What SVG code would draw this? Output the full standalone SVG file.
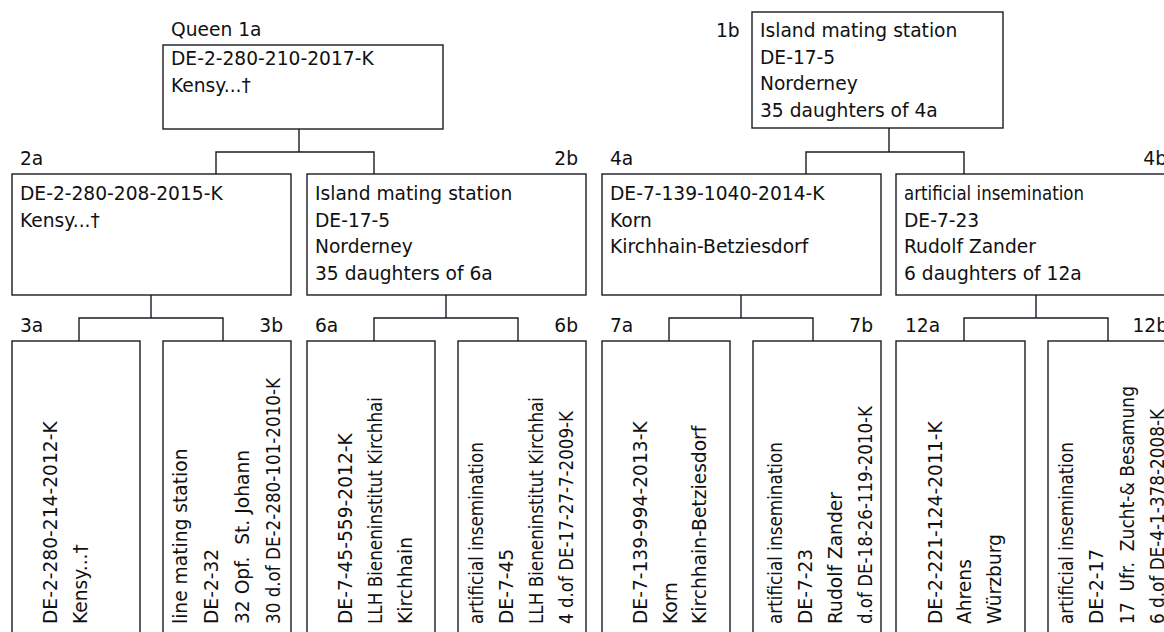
<svg xmlns="http://www.w3.org/2000/svg" width="1164" height="632" viewBox="0 0 1164 632">
<style>
text{font-family:"DejaVu Sans","Noto Sans",sans-serif;font-size:18.67px;fill:#111}
.box{fill:#fff;stroke:#1a1a24;stroke-width:1.4}
.con path{fill:none;stroke:#1a1a24;stroke-width:1.4}
.end{text-anchor:end}
</style>
<rect width="1164" height="632" fill="#fff"/>
<g class="con" id="connectors">
<path d="M299 129V152M216 174V152H374V174"/>
<path d="M889 128V152M806 174V152H964V174"/>
<path d="M151 295V318M79 341V318H223V341"/>
<path d="M446 295V318M374 341V318H518V341"/>
<path d="M741 295V318M669 341V318H813V341"/>
<path d="M1036 295V318M964 341V318H1108V341"/>
</g>
<g id="n1a">
<text x="171" y="36">Queen 1a</text>
<rect class="box" x="163" y="45" width="280" height="84"/>
<text x="171" y="65">DE-2-280-210-2017-K</text>
<text x="171" y="92">Kensy...†</text>
</g>
<g id="n1b">
<text x="716" y="37">1b</text>
<rect class="box" x="752" y="12" width="251" height="116"/>
<text x="760" y="37">Island mating station</text>
<text x="760" y="63.7">DE-17-5</text>
<text x="760" y="90.3">Norderney</text>
<text x="760" y="117">35 daughters of 4a</text>
</g>
<g id="n2a">
<text x="20" y="165">2a</text>
<rect class="box" x="12" y="174" width="279" height="121"/>
<text x="20" y="200">DE-2-280-208-2015-K</text>
<text x="20" y="226.6">Kensy...†</text>
</g>
<g id="n2b">
<text class="end" x="578" y="165">2b</text>
<rect class="box" x="307" y="174" width="279" height="121"/>
<text x="315" y="200">Island mating station</text>
<text x="315" y="226.6">DE-17-5</text>
<text x="315" y="253.2">Norderney</text>
<text x="315" y="279.8">35 daughters of 6a</text>
</g>
<g id="n4a">
<text x="610" y="165">4a</text>
<rect class="box" x="602" y="174" width="279" height="121"/>
<text x="610" y="200">DE-7-139-1040-2014-K</text>
<text x="610" y="226.6">Korn</text>
<text x="610" y="253.2">Kirchhain-Betziesdorf</text>
</g>
<g id="n4b">
<text class="end" x="1167" y="165">4b</text>
<rect class="box" x="896" y="174" width="279" height="121"/>
<text x="904" y="200" textLength="180" lengthAdjust="spacingAndGlyphs">artificial insemination</text>
<text x="904" y="226.6">DE-7-23</text>
<text x="904" y="253.2">Rudolf Zander</text>
<text x="904" y="279.8">6 daughters of 12a</text>
</g>
<g id="n3a">
<text x="20" y="332">3a</text>
<rect class="box" x="12" y="341" width="128" height="300"/>
<text transform="rotate(-90 57 624)" x="57" y="624">DE-2-280-214-2012-K</text>
<text transform="rotate(-90 87 624)" x="87" y="624">Kensy...†</text>
</g>
<g id="n3b">
<text class="end" x="283" y="332">3b</text>
<rect class="box" x="163" y="341" width="128" height="300"/>
<text transform="rotate(-90 187 624)" x="187" y="624">line mating station</text>
<text transform="rotate(-90 218 624)" x="218" y="624">DE-2-32</text>
<text transform="rotate(-90 249 624)" x="249" y="624" xml:space="preserve">32 Opf.  St. Johann</text>
<text transform="rotate(-90 280 624)" x="280" y="624" textLength="246" lengthAdjust="spacingAndGlyphs">30 d.of DE-2-280-101-2010-K</text>
</g>
<g id="n6a">
<text x="315" y="332">6a</text>
<rect class="box" x="307" y="341" width="128" height="300"/>
<text transform="rotate(-90 352 624)" x="352" y="624">DE-7-45-559-2012-K</text>
<text transform="rotate(-90 382 624)" x="382" y="624" textLength="227" lengthAdjust="spacingAndGlyphs">LLH Bieneninstitut Kirchhai</text>
<text transform="rotate(-90 412 624)" x="412" y="624">Kirchhain</text>
</g>
<g id="n6b">
<text class="end" x="578" y="332">6b</text>
<rect class="box" x="458" y="341" width="128" height="300"/>
<text transform="rotate(-90 483 624)" x="483" y="624" textLength="182" lengthAdjust="spacingAndGlyphs">artificial insemination</text>
<text transform="rotate(-90 513 624)" x="513" y="624">DE-7-45</text>
<text transform="rotate(-90 543 624)" x="543" y="624" textLength="227" lengthAdjust="spacingAndGlyphs">LLH Bieneninstitut Kirchhai</text>
<text transform="rotate(-90 573 624)" x="573" y="624" textLength="213" lengthAdjust="spacingAndGlyphs">4 d.of DE-17-27-7-2009-K</text>
</g>
<g id="n7a">
<text x="610" y="332">7a</text>
<rect class="box" x="602" y="341" width="128" height="300"/>
<text transform="rotate(-90 647 624)" x="647" y="624">DE-7-139-994-2013-K</text>
<text transform="rotate(-90 677 624)" x="677" y="624">Korn</text>
<text transform="rotate(-90 706 624)" x="706" y="624">Kirchhain-Betziesdorf</text>
</g>
<g id="n7b">
<text class="end" x="873" y="332">7b</text>
<rect class="box" x="753" y="341" width="128" height="300"/>
<text transform="rotate(-90 782 624)" x="782" y="624" textLength="182" lengthAdjust="spacingAndGlyphs">artificial insemination</text>
<text transform="rotate(-90 812 624)" x="812" y="624">DE-7-23</text>
<text transform="rotate(-90 842 624)" x="842" y="624">Rudolf Zander</text>
<text transform="rotate(-90 872 624)" x="872" y="624" textLength="218" lengthAdjust="spacingAndGlyphs">d.of DE-18-26-119-2010-K</text>
</g>
<g id="n12a">
<text x="905" y="332">12a</text>
<rect class="box" x="896" y="341" width="129" height="300"/>
<text transform="rotate(-90 942 624)" x="942" y="624">DE-2-221-124-2011-K</text>
<text transform="rotate(-90 971 624)" x="971" y="624">Ahrens</text>
<text transform="rotate(-90 1001 624)" x="1001" y="624">Würzburg</text>
</g>
<g id="n12b">
<text class="end" x="1168" y="332">12b</text>
<rect class="box" x="1048" y="341" width="128" height="300"/>
<text transform="rotate(-90 1073 624)" x="1073" y="624" textLength="182" lengthAdjust="spacingAndGlyphs">artificial insemination</text>
<text transform="rotate(-90 1103 624)" x="1103" y="624">DE-2-17</text>
<text transform="rotate(-90 1134 624)" x="1134" y="624" textLength="238" lengthAdjust="spacingAndGlyphs" xml:space="preserve">17  Ufr.  Zucht-&amp; Besamung</text>
<text transform="rotate(-90 1164 624)" x="1164" y="624" textLength="215" lengthAdjust="spacingAndGlyphs">6 d.of DE-4-1-378-2008-K</text>
</g>
</svg>
